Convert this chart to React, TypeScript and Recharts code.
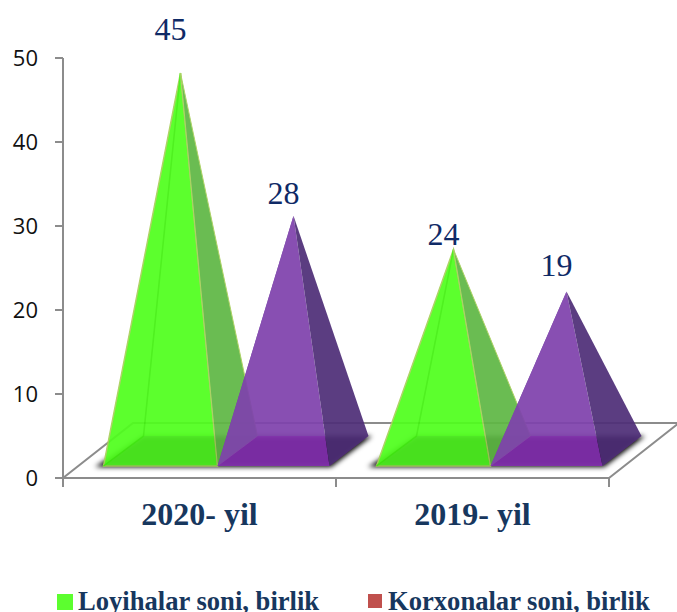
import { BarChart, Bar, XAxis, YAxis, Legend, LabelList, usePlotArea } from 'recharts';

const categories = ['2020- yil', '2019- yil'];
const loyihalar = [45, 24];
const korxonalar = [28, 19];
const yTicks = [0, 10, 20, 30, 40, 50];
const seriesNames = ['Loyihalar soni, birlik', 'Korxonalar soni, birlik'];
const legendColors = ['#5cfe2f', '#c0504d'];

// hand-placed value labels in the original: distance above the apex
const loyihalarLift = [44, 16];
const korxonalarLift = [23, 27];

const chartData = categories.map((name, i) => ({
  name,
  loyihalar: loyihalar[i],
  korxonalar: korxonalar[i],
}));

const AXIS_COLOR = '#8c8c8c';
const TEXT_COLOR = '#17375e';
const LABEL_COLOR = '#0f2a66';
const SERIF = '"Liberation Serif", serif';

// fake 3d: bars are moved onto a floor
const BAR_SHIFT = 17.5;
const LIFT = 12;
const DEPTH_X = 40;
const DEPTH_Y = 30;
const FLOOR_X = 70;
const FLOOR_Y = 55;

const GREEN = { left: '#46ee18', line: '#42f010', front: '#50ff1e', base: 'rgba(70,170,50,0.16)', right: '#5fb845', edge: '#a9cf5c', trim: 0 };
const PURPLE = { left: '#6f45a0', line: 'none', front: '#7f42ad', base: 'rgba(140,20,180,0.38)', right: '#4f2f78', edge: 'none', trim: 2 };

const pts = (list: number[][]) => list.map((p) => p.join(',')).join(' ');

function Pyramid(props: any) {
  const { x, y, width: fullWidth, height, palette } = props;
  const width = fullWidth - palette.trim;
  const left = x + BAR_SHIFT;
  const front = y + height - LIFT;
  const fl = [left, front];
  const fr = [left + width, front];
  const bl = [left + DEPTH_X, front - DEPTH_Y];
  const br = [left + width + DEPTH_X - palette.trim / 2, front - DEPTH_Y];
  const apex = [left + width / 2 + DEPTH_X / 2, y - DEPTH_Y + 3];
  const stroke = palette.edge;
  return (
    <g opacity={0.93}>
      <polygon points={pts([apex, fl, bl])} fill={palette.left} />
      <polygon points={pts([apex, fl, fr])} fill={palette.front} stroke={stroke} strokeWidth={1.5} />
      <polygon points={pts([fl, fr, br, bl])} fill={palette.base} />
      <polyline points={pts([apex, bl, fl])} fill="none" stroke={palette.line} strokeWidth={1.5} />
      <polygon points={pts([apex, fr, br])} fill={palette.right} stroke={stroke} strokeWidth={1} />
    </g>
  );
}

function Floor() {
  const plot = usePlotArea();
  if (!plot) return null;
  const bottom = plot.y + plot.height;
  const right = plot.x + plot.width;
  const band = plot.width / categories.length;
  const edges = [0, 1, 2].map((i) => plot.x + band * i);
  const barW = 114;
  return (
    <g>
      <defs>
        <filter id="floorBlur" x="-10%" y="-30%" width="120%" height="160%">
          <feGaussianBlur stdDeviation="2.6" />
        </filter>
      </defs>
      <polygon
        points={pts([
          [plot.x, bottom],
          [right, bottom],
          [right + FLOOR_X, bottom - FLOOR_Y],
          [plot.x + FLOOR_X, bottom - FLOOR_Y],
        ])}
        fill="#ffffff"
        stroke={AXIS_COLOR}
        strokeWidth={2}
      />
      {categories.map((c, i) => {
        const start = edges[i] + band / 2 - barW + BAR_SHIFT;
        const front = bottom - LIFT;
        return (
          <polygon
            key={c}
            filter="url(#floorBlur)"
            fill="#000000"
            points={pts([
              [start - 8, front + 1],
              [start + barW * 2, front + 1],
              [start + barW * 2 + DEPTH_X + 1, front - DEPTH_Y],
              [start + DEPTH_X, front - DEPTH_Y],
            ])}
          />
        );
      })}
      {edges.map((e) => (
        <line key={e} x1={e} x2={e} y1={bottom} y2={bottom + 9} stroke={AXIS_COLOR} strokeWidth={2} />
      ))}
    </g>
  );
}

const valueLabel = (lifts: number[], trim: number) => (props: any) => {
  const { x, y, width, value, index } = props;
  return (
    <text
      x={x + (width - trim) / 2 + BAR_SHIFT + DEPTH_X / 2 - 10}
      y={y - DEPTH_Y + 3 - lifts[index]}
      dy="0.35em"
      textAnchor="middle"
      fontFamily={SERIF}
      fontSize={32}
      fill={LABEL_COLOR}
    >
      {value}
    </text>
  );
};

const legendPlaces = [
  { swatch: 57, size: 16, text: 78 },
  { swatch: 368, size: 14, text: 388 },
];

function ChartLegend() {
  return (
    <div style={{ position: 'relative', width: 677, height: 34, overflow: 'hidden' }}>
      {seriesNames.map((name, i) => (
        <div key={name}>
          <div
            style={{
              position: 'absolute',
              left: legendPlaces[i].swatch,
              top: 16,
              width: legendPlaces[i].size,
              height: legendPlaces[i].size,
              background: legendColors[i],
            }}
          />
          <div
            style={{
              position: 'absolute',
              left: legendPlaces[i].text,
              top: 9,
              fontFamily: SERIF,
              fontWeight: 'bold',
              fontSize: 26.6,
              lineHeight: '29px',
              whiteSpace: 'nowrap',
              color: TEXT_COLOR,
            }}
          >
            {name}
          </div>
        </div>
      ))}
    </div>
  );
}

export default function App() {
  return (
    <div style={{ position: 'absolute', left: 0, top: 0, width: 677, height: 612, overflow: 'hidden', background: '#fff' }}>
      <BarChart
        width={677}
        height={612}
        data={chartData}
        margin={{ top: 58, right: 68, bottom: 0, left: 0 }}
        barSize={114}
        barGap={0}
      >
        <Floor />
        <XAxis
          dataKey="name"
          height={100}
          tickLine={false}
          axisLine={{ stroke: AXIS_COLOR, strokeWidth: 2 }}
          tickMargin={18}
          tick={{ fontFamily: SERIF, fontWeight: 'bold', fontSize: 32, fill: TEXT_COLOR }}
        />
        <YAxis
          width={63}
          domain={[0, 50]}
          ticks={yTicks}
          tickSize={8}
          tickMargin={17}
          interval={0}
          axisLine={{ stroke: AXIS_COLOR, strokeWidth: 2 }}
          tickLine={{ stroke: AXIS_COLOR, strokeWidth: 2 }}
          tick={{ fontFamily: '"Open Sans", sans-serif', fontSize: 22, fill: '#111111' }}
        />
        <Bar
          dataKey="loyihalar"
          name={seriesNames[0]}
          isAnimationActive={false}
          shape={(p: any) => <Pyramid {...p} palette={GREEN} />}
        >
          <LabelList dataKey="loyihalar" content={valueLabel(loyihalarLift, GREEN.trim)} />
        </Bar>
        <Bar
          dataKey="korxonalar"
          name={seriesNames[1]}
          isAnimationActive={false}
          shape={(p: any) => <Pyramid {...p} palette={PURPLE} />}
        >
          <LabelList dataKey="korxonalar" content={valueLabel(korxonalarLift, PURPLE.trim)} />
        </Bar>
        <Legend
          verticalAlign="bottom"
          content={() => <ChartLegend />}
          wrapperStyle={{ left: 0, width: 677, height: 34, bottom: 0 }}
        />
      </BarChart>
    </div>
  );
}
